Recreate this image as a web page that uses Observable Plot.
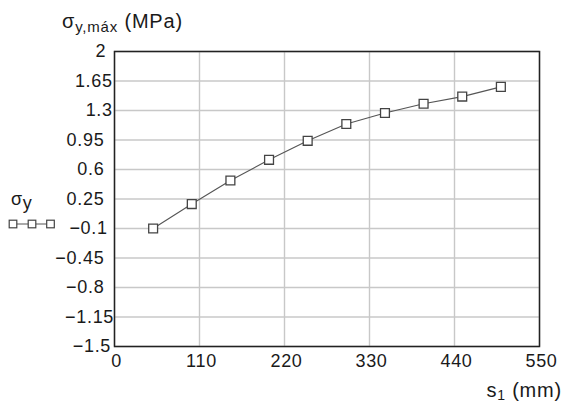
<!DOCTYPE html>
<html>
<head>
<meta charset="utf-8">
<script src="https://cdn.jsdelivr.net/npm/d3@7"></script>
<script src="https://cdn.jsdelivr.net/npm/@observablehq/plot@0.6"></script>
<style>
  html, body { margin: 0; padding: 0; background: #fff; }
  #chart { width: 562px; height: 403px; }
  svg text { font-family: "Liberation Sans", Arial, sans-serif; letter-spacing: 0.04em; }
</style>
</head>
<body>
<div id="chart"></div>
<script>
const s1 = [50, 100, 150, 200, 250, 300, 350, 400, 450, 500];
const sigmaY = [-0.1, 0.19, 0.47, 0.715, 0.94, 1.14, 1.27, 1.38, 1.465, 1.58];
const xTicks = [0, 110, 220, 330, 440, 550];
const yTicks = [2, 1.65, 1.3, 0.95, 0.6, 0.25, -0.1, -0.45, -0.8, -1.15, -1.5];

const data = s1.map((x, i) => ({x, y: sigmaY[i]}));
const fmt = d => (d < 0 ? "\u2212" + Math.abs(d) : String(d));

const chart = Plot.plot({
  width: 562,
  height: 403,
  marginLeft: 114,
  marginRight: 23,
  marginTop: 51,
  marginBottom: 57,
  style: {fontSize: "18px", fontFamily: "Liberation Sans, Arial, sans-serif", color: "#1a1a1a", background: "#fff"},
  x: {domain: [0, 550], ticks: xTicks, tickSize: 0, tickPadding: 8, tickFormat: fmt, label: null},
  y: {domain: [-1.5, 2], ticks: yTicks, tickSize: 0, tickPadding: 10, tickFormat: fmt, label: null},
  marks: [
    Plot.gridX(xTicks, {stroke: "#c8c8c8", strokeOpacity: 1, strokeWidth: 1.4}),
    Plot.gridY(yTicks, {stroke: "#c8c8c8", strokeOpacity: 1, strokeWidth: 1.4}),
    Plot.frame({stroke: "#222", strokeWidth: 1.5}),
    Plot.line(data, {x: "x", y: "y", stroke: "#555", strokeWidth: 1.1}),
    Plot.dot(data, {x: "x", y: "y", symbol: "square", r: 5, fill: "#fff", stroke: "#444", strokeWidth: 1.3})
  ]
});
document.getElementById("chart").appendChild(chart);

const svg = d3.select(chart);

// nudge y tick labels the way the reference renders them
const nudge = {"2": 1.6, "1.65": 8.3, "1.3": 8.3, "\u22120.1": 3.3, "\u22121.15": 9.6, "\u22121.5": 6.6};
svg.selectAll('g[aria-label="y-axis tick label"] text').each(function () {
  const k = this.textContent;
  if (nudge[k] !== undefined) d3.select(this).attr("dx", nudge[k]);
});
svg.selectAll('g[aria-label="x-axis tick label"] text').attr("dx", 2);

// Y axis title
const t = svg.append("text").attr("x", 62).attr("y", 28).attr("text-anchor", "start")
  .attr("font-size", 20).attr("fill", "#1a1a1a");
t.append("tspan").text("\u03c3");
t.append("tspan").attr("font-size", 15).attr("dy", 4).text("y,m\u00e1x");
t.append("tspan").attr("dy", -4).text(" (MPa)");

// X axis title
const xt = svg.append("text").attr("x", 562).attr("y", 397).attr("text-anchor", "end")
  .attr("font-size", 20).attr("fill", "#1a1a1a");
xt.append("tspan").text("s");
xt.append("tspan").attr("font-size", 14).attr("dy", 3).text("1");
xt.append("tspan").attr("dy", -3).text(" (mm)");

// Legend
const lg = svg.append("g");
const lt = lg.append("text").attr("x", 11).attr("y", 205).attr("text-anchor", "start")
  .attr("font-size", 18).attr("fill", "#1a1a1a");
lt.append("tspan").text("\u03c3");
lt.append("tspan").attr("dy", 4).text("y");
lg.append("line").attr("x1", 9).attr("x2", 55).attr("y1", 224).attr("y2", 224)
  .attr("stroke", "#555").attr("stroke-width", 1.1);
[13, 32, 50.5].forEach(cx => {
  lg.append("rect").attr("x", cx - 3.8).attr("y", 220.2).attr("width", 7.6).attr("height", 7.6)
    .attr("fill", "#fff").attr("stroke", "#444").attr("stroke-width", 1.2);
});
</script>
</body>
</html>
